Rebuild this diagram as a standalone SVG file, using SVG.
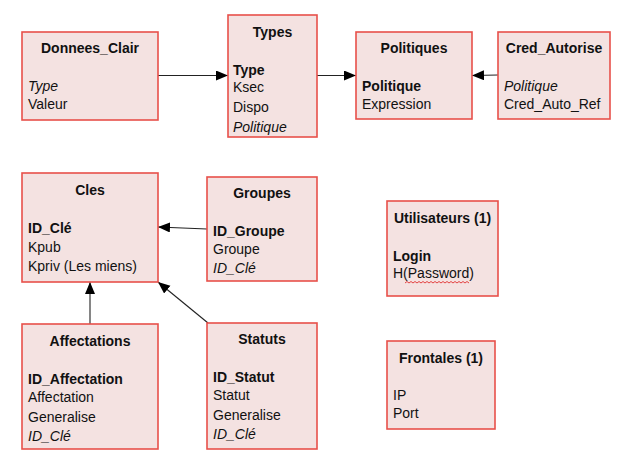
<svg xmlns="http://www.w3.org/2000/svg" width="639" height="466" viewBox="0 0 639 466">
<defs>
<style>
.box{fill:#f4e2e1;stroke:#e8504a;stroke-width:1.6}
text{font-family:"Liberation Sans",Arial,sans-serif;font-size:14px;fill:#111}
.t{font-weight:bold;text-anchor:middle}
.b{font-weight:bold}
.i{font-style:italic}
.c{stroke:#222;stroke-width:1.1;fill:none}
</style>
<marker id="ah" markerUnits="userSpaceOnUse" markerWidth="13" markerHeight="11" refX="12" refY="5" orient="auto">
<path d="M0,0 L12,5 L0,10 z" fill="#000"/>
</marker>
</defs>
<rect width="639" height="466" fill="#fff"/>
<g id="connectors">
<line class="c" x1="158" y1="75.5" x2="228" y2="75.5" marker-end="url(#ah)"/>
<line class="c" x1="317" y1="75.5" x2="356" y2="75.5" marker-end="url(#ah)"/>
<line class="c" x1="498" y1="75" x2="472" y2="75.5" marker-end="url(#ah)"/>
<line class="c" x1="207" y1="229" x2="158" y2="227" marker-end="url(#ah)"/>
<line class="c" x1="90" y1="324" x2="90" y2="282" marker-end="url(#ah)"/>
<line class="c" x1="208" y1="323" x2="158" y2="282" marker-end="url(#ah)"/>
</g>
<g id="donnees_clair">
<rect class="box" x="22" y="32" width="136" height="88"/>
<text class="t" x="90" y="53">Donnees_Clair</text>
<text class="i" x="28" y="91">Type</text>
<text x="28" y="109">Valeur</text>
</g>
<g id="types">
<rect class="box" x="228" y="15" width="89" height="122"/>
<text class="t" x="272.5" y="37">Types</text>
<text class="b" x="233" y="75">Type</text>
<text x="233" y="92">Ksec</text>
<text x="233" y="112">Dispo</text>
<text class="i" x="233" y="132">Politique</text>
</g>
<g id="politiques">
<rect class="box" x="356" y="32" width="116" height="87"/>
<text class="t" x="414" y="53">Politiques</text>
<text class="b" x="362" y="91">Politique</text>
<text x="362" y="109">Expression</text>
</g>
<g id="cred_autorise">
<rect class="box" x="498" y="32" width="112" height="87"/>
<text class="t" x="554" y="53">Cred_Autorise</text>
<text class="i" x="504" y="91">Politique</text>
<text x="504" y="109">Cred_Auto_Ref</text>
</g>
<g id="cles">
<rect class="box" x="22" y="173" width="136" height="109"/>
<text class="t" x="90" y="195">Cles</text>
<text class="b" x="28" y="233">ID_Clé</text>
<text x="28" y="252">Kpub</text>
<text x="28" y="271">Kpriv (Les miens)</text>
</g>
<g id="groupes">
<rect class="box" x="207" y="177" width="110" height="104"/>
<text class="t" x="262" y="198">Groupes</text>
<text class="b" x="213" y="236">ID_Groupe</text>
<text x="213" y="254">Groupe</text>
<text class="i" x="213" y="273">ID_Clé</text>
</g>
<g id="affectations">
<rect class="box" x="22" y="324" width="136" height="125"/>
<text class="t" x="90" y="346">Affectations</text>
<text class="b" x="28" y="384">ID_Affectation</text>
<text x="28" y="402">Affectation</text>
<text x="28" y="422">Generalise</text>
<text class="i" x="28" y="441">ID_Clé</text>
</g>
<g id="statuts">
<rect class="box" x="207" y="323" width="110" height="126"/>
<text class="t" x="262" y="344">Statuts</text>
<text class="b" x="213" y="382">ID_Statut</text>
<text x="213" y="400">Statut</text>
<text x="213" y="420">Generalise</text>
<text class="i" x="213" y="439">ID_Clé</text>
</g>
<g id="utilisateurs">
<rect class="box" x="387" y="201" width="111" height="95"/>
<text class="t" x="442.5" y="223">Utilisateurs (1)</text>
<text class="b" x="393" y="261">Login</text>
<text x="393" y="278">H(Password)</text>
<path d="M405,283 l2,-1.5 l2,1.5 l2,-1.5 l2,1.5 l2,-1.5 l2,1.5 l2,-1.5 l2,1.5 l2,-1.5 l2,1.5 l2,-1.5 l2,1.5 l2,-1.5 l2,1.5 l2,-1.5 l2,1.5 l2,-1.5 l2,1.5 l2,-1.5 l2,1.5 l2,-1.5 l2,1.5 l2,-1.5 l2,1.5 l2,-1.5 l2,1.5 l2,-1.5 l2,1.5 l2,-1.5 l2,1.5 l2,-1.5 l2,1.5" fill="none" stroke="#e03030" stroke-width="0.9"/>
</g>
<g id="frontales">
<rect class="box" x="387" y="341" width="108" height="88"/>
<text class="t" x="441" y="363">Frontales (1)</text>
<text x="393" y="400">IP</text>
<text x="393" y="418">Port</text>
</g>
</svg>
